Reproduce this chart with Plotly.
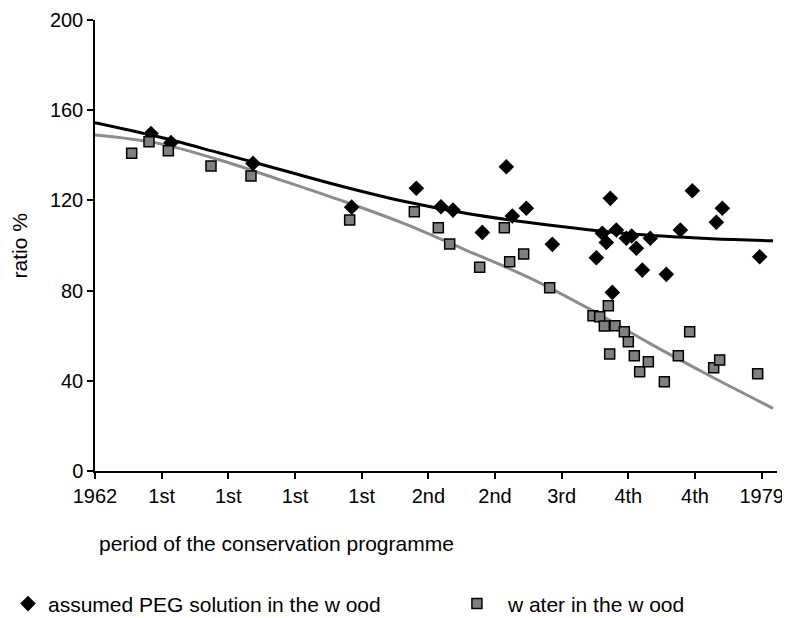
import plotly.graph_objects as go

# tick positions / labels of the category-like x axis
tick_pos = [0, 1, 2, 3, 4, 5, 6, 7, 8, 9, 10]
tick_labels = ["1962", "1st", "1st", "1st", "1st", "2nd", "2nd", "3rd", "4th", "4th", "1979"]

# assumed PEG solution in the wood (diamonds)
peg_x = [0.84, 1.14, 2.37, 3.85, 4.82, 5.19, 5.37, 5.81, 6.17, 6.26, 6.47, 6.86,
         7.52, 7.61, 7.67, 7.73, 7.76, 7.82, 7.97, 8.05, 8.12, 8.21, 8.33, 8.57,
         8.78, 8.96, 9.32, 9.41, 9.97]
peg_y = [149.7, 145.6, 136.4, 117.0, 125.4, 117.2, 115.7, 105.8, 134.9, 113.1, 116.5, 100.5,
         94.6, 105.4, 101.3, 120.9, 79.2, 106.9, 103.2, 104.2, 98.8, 89.1, 103.2, 87.2,
         106.9, 124.3, 110.3, 116.5, 95.0]

# water in the wood (squares)
water_x = [0.55, 0.81, 1.10, 1.74, 2.34, 3.82, 4.79, 5.15, 5.32, 5.77, 6.14, 6.22,
           6.43, 6.82, 7.47, 7.57, 7.64, 7.70, 7.72, 7.80, 7.94, 8.00, 8.09, 8.17,
           8.30, 8.54, 8.75, 8.92, 9.28, 9.37, 9.94]
water_y = [140.9, 146.0, 142.0, 135.3, 130.8, 111.3, 115.0, 107.9, 100.7, 90.3, 107.9, 92.8,
           96.2, 81.3, 68.9, 68.4, 64.3, 73.3, 51.9, 64.4, 61.8, 57.3, 51.1, 44.0,
           48.5, 39.6, 51.1, 61.8, 45.8, 49.2, 43.1]

# trend lines
trend_x = [0, 0.95, 1.87, 2.79, 3.67, 4.63, 5.56, 6.48, 7.40, 8.32, 9.25, 10.17]
peg_trend = [154.5, 148.2, 141.0, 133.6, 126.5, 119.6, 114.3, 110.3, 107.0, 104.5, 103.0, 102.1]
water_trend = [149.0, 145.3, 137.9, 129.0, 120.2, 109.8, 98.0, 86.2, 72.1, 56.6, 41.8, 27.8]

font_family = "Liberation Sans, Arial, sans-serif"
tick_font_size = 20
text_font_size = 21

# the page body adds an 8px offset, so the figure is 8px smaller than the window
fig_w, fig_h = 782, 610

fig = go.Figure()
fig.add_trace(go.Scatter(x=trend_x, y=peg_trend, mode="lines", line_shape="spline",
                         line=dict(color="black", width=3), showlegend=False, hoverinfo="skip"))
fig.add_trace(go.Scatter(x=trend_x, y=water_trend, mode="lines", line_shape="spline",
                         line=dict(color="#8c8c8c", width=3), showlegend=False, hoverinfo="skip"))
fig.add_trace(go.Scatter(x=peg_x, y=peg_y, mode="markers", name="assumed PEG solution in the w ood",
                         marker=dict(symbol="diamond", size=12, color="black"), legend="legend"))
fig.add_trace(go.Scatter(x=water_x, y=water_y, mode="markers", name="w ater in the w ood",
                         marker=dict(symbol="square", size=10, color="#808080",
                                     line=dict(color="black", width=1.5)), legend="legend2"))

fig.update_xaxes(range=[0, 10.23], tickvals=tick_pos, ticktext=tick_labels, automargin=False,
                 ticks="outside", ticklen=6, tickwidth=1.5, tickcolor="black",
                 showline=True, linecolor="black", linewidth=1.5,
                 showgrid=False, zeroline=False, tickfont=dict(size=tick_font_size, color="black"))
fig.update_yaxes(range=[0, 200], tickvals=[0, 40, 80, 120, 160, 200], automargin=False,
                 ticks="outside", ticklen=6, tickwidth=1.5, tickcolor="black",
                 showline=True, linecolor="black", linewidth=1.5,
                 showgrid=False, zeroline=False, tickfont=dict(size=tick_font_size, color="black"))

legend_style = dict(orientation="h", xref="container", yref="container", xanchor="left",
                    y=0.023, yanchor="middle",
                    font=dict(size=text_font_size), bgcolor="rgba(0,0,0,0)")

fig.update_layout(
    width=fig_w, height=fig_h,
    margin=dict(l=87, r=13, t=12, b=147),
    plot_bgcolor="white", paper_bgcolor="white",
    font=dict(family=font_family, size=text_font_size, color="black"),
    legend=dict(x=0, itemwidth=30, **legend_style),
    legend2=dict(x=0.560, itemwidth=52, **legend_style),
    annotations=[
        dict(text="ratio %", x=-0.11, y=0.5, xref="paper", yref="paper",
             xanchor="center", yanchor="middle",
             textangle=-90, showarrow=False, font=dict(size=text_font_size)),
        dict(text="period of the conservation programme", x=0.003, y=-0.16,
             xref="paper", yref="paper", xanchor="left", yanchor="middle",
             showarrow=False, font=dict(size=text_font_size)),
    ],
)

fig.write_html("out.html")
